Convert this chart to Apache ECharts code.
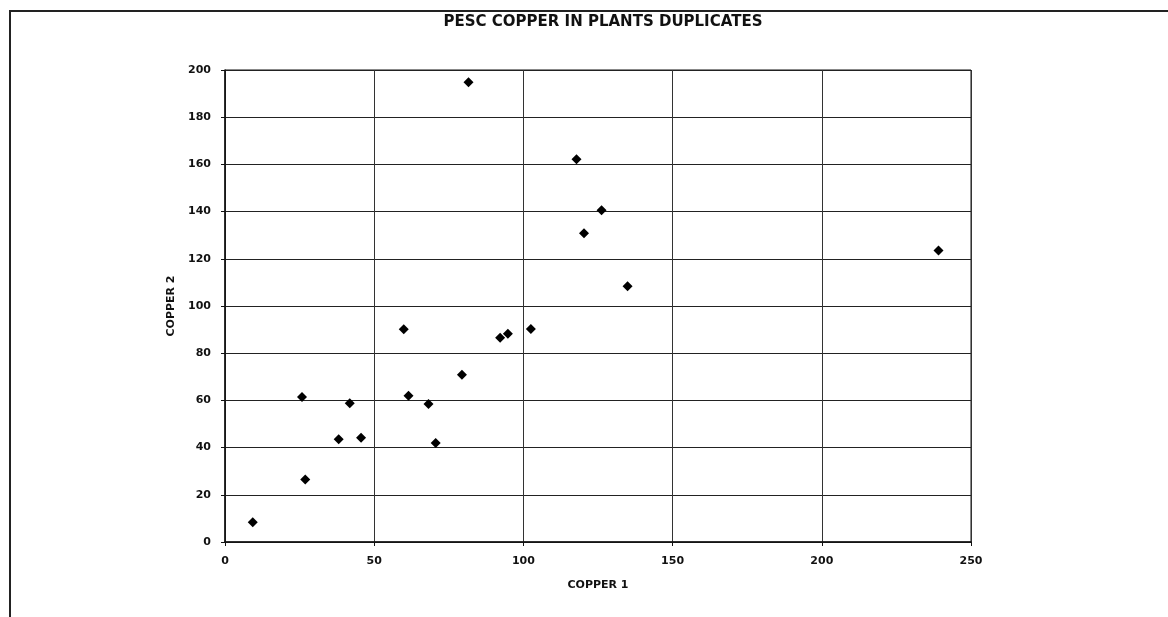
<!DOCTYPE html>
<html>
<head>
<meta charset="utf-8">
<script src="https://cdn.jsdelivr.net/npm/echarts@6/dist/echarts.min.js"></script>
<style>
  html, body { margin: 0; padding: 0; background: #fff; }
  #chart { width: 1168px; height: 617px; }
</style>
</head>
<body>
<div id="chart"></div>
<script>
// copper duplicates
var copper1 = [9.3, 25.8, 26.9, 38.1, 41.8, 45.6, 59.9, 61.5, 68.2, 70.6, 79.4, 92.2, 94.8, 102.5, 81.6, 117.8, 126.2, 120.3, 134.9, 239.1];
var copper2 = [8.4, 61.4, 26.5, 43.5, 58.8, 44.2, 90.2, 62.0, 58.5, 41.9, 70.9, 86.5, 88.2, 90.3, 194.8, 162.2, 140.6, 130.8, 108.4, 123.5];
var xTicks = [0, 50, 100, 150, 200, 250];
var yTicks = [0, 20, 40, 60, 80, 100, 120, 140, 160, 180, 200];

var points = [];
for (var i = 0; i < copper1.length; i++) {
    points.push([copper1[i], copper2[i]]);
}

var myChart = echarts.init(document.getElementById('chart'));
var fontFam = 'DejaVu Sans, Liberation Sans, sans-serif';

var option = {
    backgroundColor: '#ffffff',
    animation: false,
    title: {
        text: 'PESC COPPER IN PLANTS DUPLICATES',
        left: 603,
        textAlign: 'center',
        top: 15,
        padding: 0,
        textStyle: { fontFamily: fontFam, fontWeight: 'bold', fontSize: 15, color: '#111' }
    },
    // frame round the whole chart
    graphic: [{
        type: 'rect',
        shape: { x: 10, y: 11, width: 1200, height: 700 },
        style: { fill: 'none', stroke: '#222', lineWidth: 2 },
        silent: true
    }],
    grid: {
        left: 225,
        right: 197,
        top: 70,
        bottom: 75,
        show: true,
        borderColor: '#111',
        borderWidth: 1
    },
    xAxis: {
        type: 'value',
        min: xTicks[0],
        max: xTicks[xTicks.length - 1],
        interval: 50,
        name: 'COPPER 1',
        nameLocation: 'middle',
        nameGap: 38,
        nameTextStyle: { fontFamily: fontFam, fontWeight: 'bold', fontSize: 11, color: '#111' },
        axisLine: { show: true, lineStyle: { color: '#111', width: 1.5 } },
        axisTick: { show: true, length: 4, lineStyle: { color: '#111' } },
        axisLabel: { margin: 14, fontFamily: fontFam, fontWeight: 'bold', fontSize: 11, color: '#111' },
        splitLine: { show: true, lineStyle: { color: '#333', width: 1 } }
    },
    yAxis: {
        type: 'value',
        min: yTicks[0],
        max: yTicks[yTicks.length - 1],
        interval: 20,
        name: 'COPPER 2',
        nameLocation: 'middle',
        nameGap: 44,
        nameTextStyle: { fontFamily: fontFam, fontWeight: 'bold', fontSize: 11, color: '#111' },
        axisLine: { show: true, lineStyle: { color: '#111', width: 1.5 } },
        axisTick: { show: true, length: 4, lineStyle: { color: '#111' } },
        axisLabel: { margin: 14, fontFamily: fontFam, fontWeight: 'bold', fontSize: 11, color: '#111' },
        splitLine: { show: true, lineStyle: { color: '#222', width: 1.2 } }
    },
    series: [{
        type: 'scatter',
        symbol: 'diamond',
        symbolSize: 10,
        itemStyle: { color: '#000', opacity: 1 },
        data: points
    }]
};

myChart.setOption(option);
</script>
</body>
</html>
